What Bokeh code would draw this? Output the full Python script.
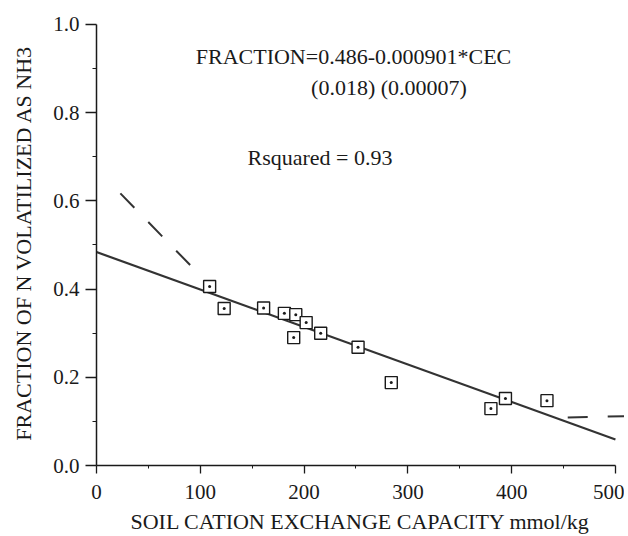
from bokeh.plotting import figure
from bokeh.models import FixedTicker, Range1d
from bokeh.embed import file_html
from bokeh.resources import INLINE
from bokeh.core.properties import value

# Data
cec = [109, 123, 161, 181, 192, 190, 202, 216, 252, 284, 380, 394, 434]
frac = [0.406, 0.356, 0.357, 0.345, 0.342, 0.290, 0.324, 0.300, 0.268, 0.188, 0.129, 0.152, 0.147]

fit_x = [0, 500]
fit_y = [0.484, 0.059]

band_left_x = [23, 92.5]
band_left_y = [0.617, 0.449]
band_right_x = [454, 512]
band_right_y = [0.109, 0.112]

x_ticks = [0, 100, 200, 300, 400, 500]
x_minor = [50, 150, 250, 350, 450]
y_ticks = [0.0, 0.2, 0.4, 0.6, 0.8, 1.0]
y_minor = [0.1, 0.3, 0.5, 0.7, 0.9]
y_tick_labels = ["0.0", "0.2", "0.4", "0.6", "0.8", "1.0"]

eq_text = "FRACTION=0.486-0.000901*CEC"
se_text = "(0.018) (0.00007)"
r2_text = "Rsquared = 0.93"

FONT = "'Liberation Serif', 'Times New Roman', serif"
INK = "#1a1a1a"

p = figure(width=624, height=536, output_backend="svg", toolbar_location=None,
           x_range=Range1d(0, 508.7), y_range=Range1d(0, 1.009),
           min_border_left=96, min_border_right=0, min_border_top=20, min_border_bottom=71)
p.outline_line_color = None
p.xgrid.visible = False
p.ygrid.visible = False
p.background_fill_color = "white"
p.border_fill_color = "white"

# axes
xa = p.xaxis[0]
xa.ticker = FixedTicker(ticks=x_ticks, minor_ticks=x_minor)
xa.bounds = (0, 500)
xa.axis_label = "SOIL CATION EXCHANGE CAPACITY mmol/kg"
ya = p.yaxis[0]
ya.ticker = FixedTicker(ticks=y_ticks, minor_ticks=y_minor)
ya.bounds = (0, 1.0)
ya.major_label_overrides = {t: l for t, l in zip(y_ticks, y_tick_labels)}
ya.axis_label = "FRACTION OF N VOLATILIZED AS NH3"

for ax in (xa, ya):
    ax.axis_line_color = INK
    ax.axis_line_width = 1.5
    ax.major_tick_line_color = INK
    ax.minor_tick_line_color = INK
    ax.major_tick_line_width = 1.3
    ax.major_tick_in = 0
    ax.minor_tick_in = 0
    ax.major_label_text_font = FONT
    ax.major_label_text_font_size = "21px"
    ax.major_label_text_color = INK
    ax.axis_label_text_font = FONT
    ax.axis_label_text_font_size = "22px"
    ax.axis_label_text_font_style = "normal"
    ax.axis_label_text_color = INK

xa.major_tick_out = 8
xa.minor_tick_out = 3
xa.major_label_standoff = 11
xa.axis_label_standoff = 7
ya.major_tick_out = 11
ya.minor_tick_out = 4
ya.major_label_standoff = 6
ya.axis_label_standoff = 14

# regression line
p.line(fit_x, fit_y, line_color="#333333", line_width=2.2)
# dashed curves
p.line(band_left_x, band_left_y, line_color="#333333", line_width=2, line_dash="20 20")
p.line(band_right_x, band_right_y, line_color="#333333", line_width=2, line_dash="20 20")

# points
p.scatter(cec, frac, marker="square_dot", size=12, fill_color="white",
          line_color=INK, line_width=1.4)

# annotations
p.text(x=[247.6], y=[0.927], text=[eq_text], text_font=value(FONT), text_font_size="22px",
       text_align="center", text_baseline="middle", text_color=INK)
p.text(x=[281.8], y=[0.857], text=[se_text], text_font=value(FONT), text_font_size="22px",
       text_align="center", text_baseline="middle", text_color=INK)
p.text(x=[215.3], y=[0.698], text=[r2_text], text_font=value(FONT), text_font_size="22px",
       text_align="center", text_baseline="middle", text_color=INK)

open("out.html", "w").write(file_html(p, INLINE))
